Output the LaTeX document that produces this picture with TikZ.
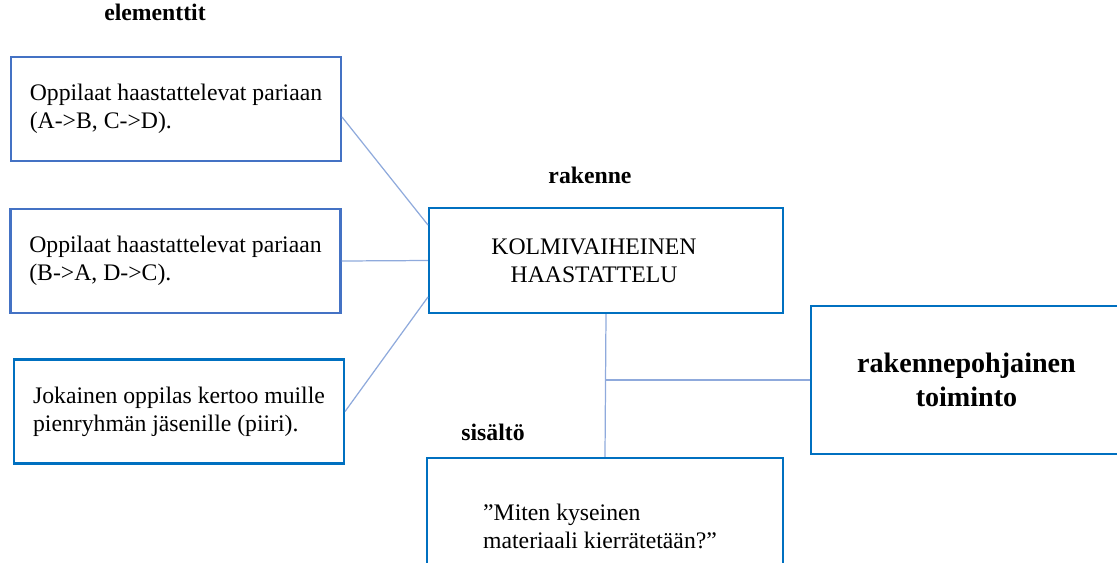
\documentclass[tikz,border=0pt]{standalone}
\usepackage{fontspec}
\setmainfont{Liberation Serif}
\definecolor{sininen}{HTML}{4472C4}
\definecolor{tummasininen}{HTML}{0070C0}
\definecolor{vaaleasininen}{HTML}{8FAADC}
\begin{document}
\begin{tikzpicture}[x=0.02cm, y=-0.02cm]

% Set the page size
\useasboundingbox (0,0) rectangle (1117,562);

% Define styles for boxes, titles and lines
\tikzstyle{elem} = [rectangle, draw=sininen, line width=1.2pt, minimum width=6.6cm, minimum height=2.08cm, align=left, font=\fontsize{13.5}{15.9}\selectfont]
\tikzstyle{keskus} = [elem, draw=tummasininen, align=center]
\tikzstyle{otsikko} = [anchor=base, inner sep=0pt, font=\fontsize{13.5}{15.9}\selectfont\bfseries]
\tikzstyle{yhteys} = [draw=vaaleasininen, line width=0.7pt]

%Elementit vasemmalla
\node[otsikko] (elotsikko) at (155,20) {elementtit};
\node[elem] (el1) at (176,109) {Oppilaat haastattelevat pariaan\\(A->B, C->D).};
\node[elem] (el2) at (175.5,261) {Oppilaat haastattelevat pariaan\\(B->A, D->C).};
\node[elem, draw=tummasininen] (el3) at (179,411.5) {Jokainen oppilas kertoo muille\\pienryhmän  jäsenille (piiri).};

%Rakenne ja sisältö keskellä
\node[otsikko] (rakotsikko) at (590,183) {rakenne};
\node[keskus, minimum width=7.08cm, minimum height=2.1cm] (rak) at (606,260.5) {KOLMIVAIHEINEN\hspace*{0.48cm}\\HAASTATTELU\hspace*{0.48cm}};
\node[otsikko] (sisotsikko) at (493,440) {sisältö};
\node[keskus, minimum width=7.12cm, minimum height=2.72cm, align=left] (sis) at (605,526) {”Miten kyseinen\\materiaali kierrätetään?”\hspace*{0.2cm}};

%Toiminto oikealla
\node[keskus, minimum width=6.22cm, minimum height=2.96cm, font=\fontsize{16}{19.3}\selectfont\bfseries] (toim) at (966.5,380) {rakennepohjainen\\toiminto};

%Yhteydet
\coordinate (haara) at (rak.south |- toim.west);
\draw[yhteys] ([yshift=-0.16cm]el1.east) -- ([yshift=0.71cm]rak.west);
\draw[yhteys] (el2.east) -- (rak.west);
\draw[yhteys] (el3.east) -- ([yshift=-0.73cm]rak.west);
\draw[yhteys] (rak.south) -- (sis.north);
\draw[yhteys] (haara) -- (toim.west);
\end{tikzpicture}
\end{document}
